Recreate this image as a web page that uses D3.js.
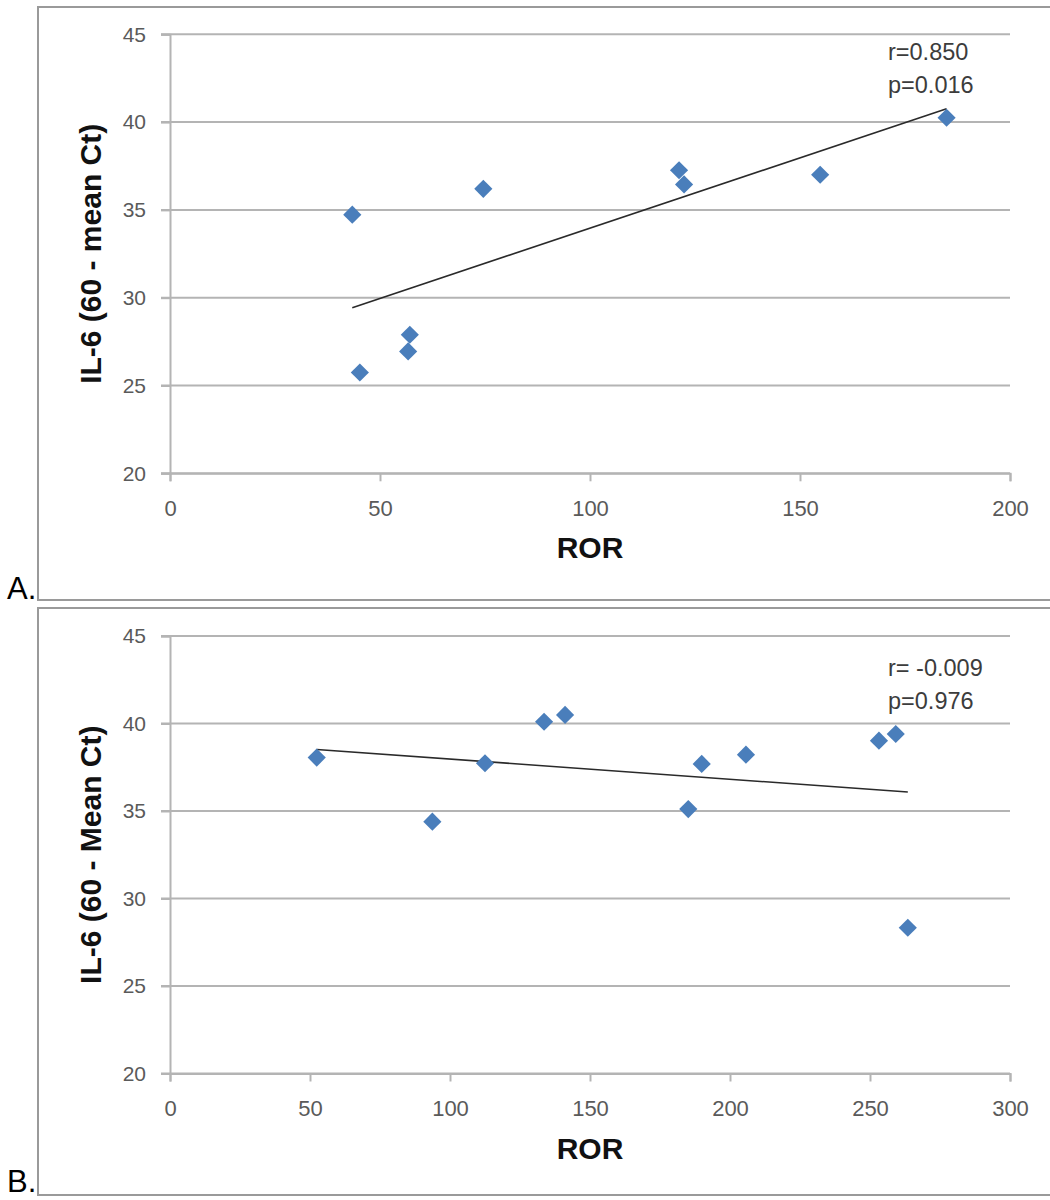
<!DOCTYPE html>
<html>
<head>
<meta charset="utf-8">
<script src="https://cdn.jsdelivr.net/npm/d3@7"></script>
<style>
  html, body { margin: 0; padding: 0; background: #fff; }
  svg { display: block; font-family: "Liberation Sans", Arial, sans-serif; }
</style>
</head>
<body>
<svg id="chart" width="1050" height="1200"></svg>
<script>
// Panel A: ROR vs IL-6 (60 - mean Ct)
const rorA = [43.4, 45.2, 57.1, 56.7, 74.6, 121.2, 122.4, 154.8, 184.9];
const il6A = [34.73, 25.74, 27.89, 26.94, 36.2, 37.26, 36.45, 37.0, 40.25];
const xTicksA = [0, 50, 100, 150, 200];
const statsA = ["r=0.850", "p=0.016"];

// Panel B: ROR vs IL-6 (60 - Mean Ct)
const rorB = [52.4, 93.7, 112.5, 133.6, 141.1, 185.1, 189.9, 205.7, 253.2, 259.2, 263.5];
const il6B = [38.05, 34.39, 37.73, 40.1, 40.49, 35.11, 37.69, 38.22, 39.02, 39.4, 28.33];
const xTicksB = [0, 50, 100, 150, 200, 250, 300];
const statsB = ["r= -0.009", "p=0.976"];

const yTicks = [20, 25, 30, 35, 40, 45];

const svg = d3.select("#chart");
const gridColor = "#b4b4b4";
const markerColor = "#4a7ebb";

// least-squares fit over the plotted points
function linearFit(xs, ys) {
  const n = xs.length;
  const mx = d3.mean(xs), my = d3.mean(ys);
  let sxy = 0, sxx = 0;
  for (let i = 0; i < n; i++) {
    sxy += (xs[i] - mx) * (ys[i] - my);
    sxx += (xs[i] - mx) ** 2;
  }
  const b = sxy / sxx;
  return x => my + b * (x - mx);
}

function drawPanel(opt) {
  const g = svg.append("g");

  // panel frame (runs off the right edge)
  g.append("rect")
    .attr("x", 38).attr("y", opt.frameTop)
    .attr("width", 1100).attr("height", opt.frameBottom - opt.frameTop)
    .attr("fill", "none").attr("stroke", "#9a9a9a").attr("stroke-width", 2);

  g.append("text")
    .attr("x", 7).attr("y", opt.letterY)
    .attr("font-size", 31).attr("fill", "#000")
    .text(opt.letter);

  const x = d3.scaleLinear().domain([0, opt.xMax]).range([170, 1010]);
  const y = d3.scaleLinear().domain([20, 45]).range([opt.yBottom, opt.yTop]);

  // horizontal gridlines
  g.append("g").selectAll("line").data(yTicks).join("line")
    .attr("x1", 161).attr("x2", 1010)
    .attr("y1", d => y(d)).attr("y2", d => y(d))
    .attr("stroke", gridColor).attr("stroke-width", 2);

  // y axis
  const yAxis = g.append("g")
    .attr("transform", "translate(170,0)")
    .call(d3.axisLeft(y).tickValues(yTicks).tickSize(9).tickPadding(15));
  yAxis.select(".domain").attr("stroke", gridColor).attr("stroke-width", 2);
  yAxis.selectAll(".tick line").attr("stroke", gridColor).attr("stroke-width", 2);
  yAxis.selectAll(".tick text")
    .attr("font-size", 21).attr("fill", "#5a5a5a")
    .attr("font-family", "'Liberation Sans', Arial, sans-serif");

  // x axis
  const xAxis = g.append("g")
    .attr("transform", `translate(0,${opt.yBottom})`)
    .call(d3.axisBottom(x).tickValues(opt.xTicks).tickSize(8).tickPadding(19));
  xAxis.select(".domain").attr("stroke", gridColor).attr("stroke-width", 2);
  xAxis.selectAll(".tick line").attr("stroke", gridColor).attr("stroke-width", 2);
  xAxis.selectAll(".tick text")
    .attr("font-size", 22).attr("fill", "#5a5a5a")
    .attr("font-family", "'Liberation Sans', Arial, sans-serif");

  // axis titles
  g.append("text")
    .attr("x", 590).attr("y", opt.yBottom + 85)
    .attr("text-anchor", "middle")
    .attr("font-size", 30).attr("font-weight", "bold").attr("fill", "#111")
    .text("ROR");

  g.append("text")
    .attr("transform", `translate(101,${(opt.yTop + opt.yBottom) / 2}) rotate(-90)`)
    .attr("text-anchor", "middle")
    .attr("font-size", 30).attr("font-weight", "bold").attr("fill", "#111")
    .text(opt.yTitle);

  // trend line across the observed ROR range
  const fit = linearFit(opt.xs, opt.ys);
  const x0 = d3.min(opt.xs), x1 = d3.max(opt.xs);
  g.append("line")
    .attr("x1", x(x0)).attr("y1", y(fit(x0)))
    .attr("x2", x(x1)).attr("y2", y(fit(x1)))
    .attr("stroke", "#2a2a2a").attr("stroke-width", 1.6);

  // diamond markers
  const diamond = d3.symbol().type(d3.symbolSquare).size(165);
  g.append("g").selectAll("path").data(opt.xs.map((v, i) => [v, opt.ys[i]])).join("path")
    .attr("d", diamond)
    .attr("transform", d => `translate(${x(d[0])},${y(d[1])}) rotate(45)`)
    .attr("fill", markerColor);

  // correlation annotation
  g.append("g").selectAll("text").data(opt.stats).join("text")
    .attr("x", 888).attr("y", (d, i) => opt.statY + i * 33)
    .attr("font-size", 23.5).attr("fill", "#3c3c3c")
    .text(d => d);
}

drawPanel({
  letter: "A.", frameTop: 7, frameBottom: 600, letterY: 599,
  yTop: 34.3, yBottom: 473.3, xMax: 200, xTicks: xTicksA,
  xs: rorA, ys: il6A, yTitle: "IL-6 (60 - mean Ct)",
  stats: statsA, statY: 60
});

drawPanel({
  letter: "B.", frameTop: 608, frameBottom: 1195, letterY: 1192,
  yTop: 636, yBottom: 1073.5, xMax: 300, xTicks: xTicksB,
  xs: rorB, ys: il6B, yTitle: "IL-6 (60 - Mean Ct)",
  stats: statsB, statY: 676
});
</script>
</body>
</html>
